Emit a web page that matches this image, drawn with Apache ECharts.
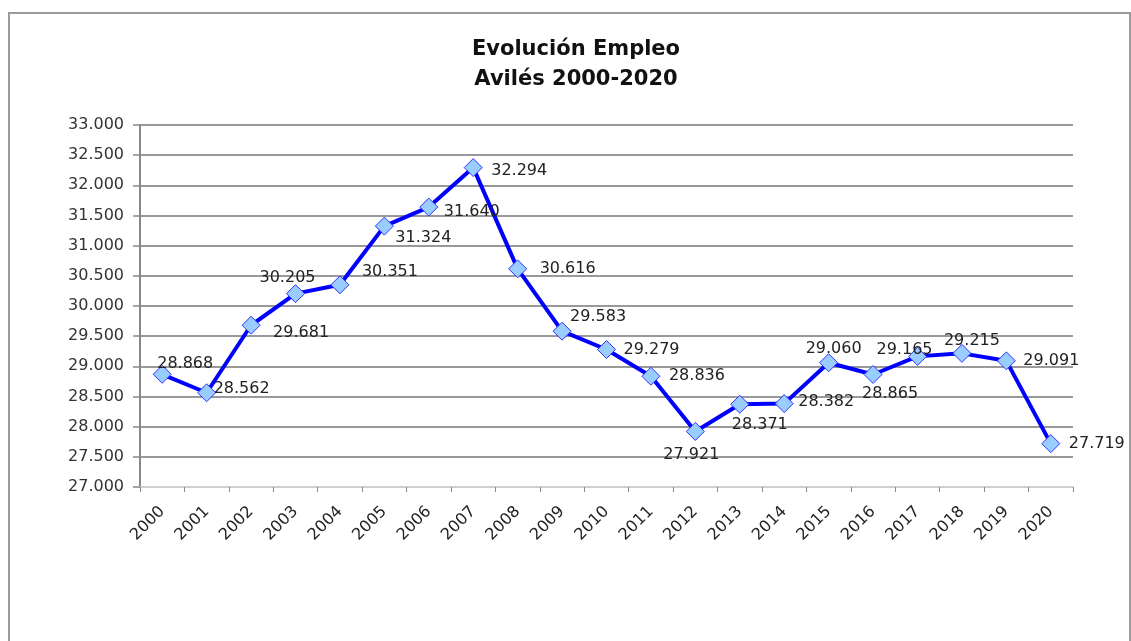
<!DOCTYPE html>
<html>
<head>
<meta charset="utf-8">
<title>Evolución Empleo Avilés 2000-2020</title>
<script src="https://cdn.jsdelivr.net/npm/echarts@6/dist/echarts.min.js"></script>
<style>
html, body { margin: 0; padding: 0; background: #fff; }
#main { width: 1131px; height: 641px; }
</style>
</head>
<body>
<div id="main"></div>
<script>
// datos
var years = ['2000','2001','2002','2003','2004','2005','2006','2007','2008','2009','2010',
	'2011','2012','2013','2014','2015','2016','2017','2018','2019','2020'];
var empleo = [28868, 28562, 29681, 30205, 30351, 31324, 31640, 32294, 30616, 29583, 29279,
	28836, 27921, 28371, 28382, 29060, 28865, 29165, 29215, 29091, 27719];
var yTicks = [27000, 27500, 28000, 28500, 29000, 29500, 30000, 30500, 31000, 31500, 32000, 32500, 33000];

// desplazamiento de cada etiqueta respecto al punto (solo estilo)
var labelOffsets = [[23,-10],[35,-4],[50,8],[-8,-16],[50,-13],[39,12],[43,5],[46,3],[50,0],[36,-14],[45,0],
	[46,0],[-4,23],[20,21],[42,-2],[5,-14],[17,19],[-13,-7],[10,-13],[45,0],[46,0]];

function fmt(v){
	return (v/1000).toFixed(3);
}

var myChart = echarts.init(document.getElementById('main'));

var seriesData = [];
for(var i = 0; i < empleo.length; i++){
	seriesData.push({
		value: empleo[i],
		label: { offset: labelOffsets[i] }
	});
}

var option = {
	backgroundColor: '#fff',
	animation: false,
	graphic: [{
		type: 'rect',
		shape: { x: 9, y: 13, width: 1121, height: 700 },
		style: { fill: 'none', stroke: '#9a9a9a', lineWidth: 2 },
		silent: true
	}],
	title: {
		text: 'Evolución Empleo\nAvilés 2000-2020',
		left: 571,
		top: 30,
		textAlign: 'center',
		textStyle: {
			fontFamily: 'DejaVu Sans',
			fontWeight: 'bold',
			fontSize: 21,
			lineHeight: 30,
			color: '#111'
		}
	},
	grid: {
		left: 140,
		right: 58,
		top: 125,
		bottom: 154,
		containLabel: false
	},
	xAxis: {
		type: 'category',
		data: years,
		boundaryGap: true,
		axisLine: { lineStyle: { color: '#cfcfcf', width: 2 } },
		axisTick: { show: true, length: 5, lineStyle: { color: '#888' } },
		axisLabel: {
			rotate: 45,
			interval: 0,
			margin: 22,
			fontFamily: 'DejaVu Sans',
			fontSize: 16,
			color: '#222'
		}
	},
	yAxis: {
		type: 'value',
		min: yTicks[0],
		max: yTicks[yTicks.length - 1],
		interval: 500,
		axisLine: { show: true, lineStyle: { color: '#888', width: 2 } },
		axisTick: { show: true, length: 7, lineStyle: { color: '#888', width: 1.5 } },
		axisLabel: {
			margin: 16,
			fontFamily: 'DejaVu Sans',
			fontSize: 16,
			color: '#333',
			formatter: function(v){ return fmt(v); }
		},
		splitLine: { show: true, lineStyle: { color: '#999', width: 2 } }
	},
	series: [{
		name: 'Empleo',
		type: 'line',
		data: seriesData,
		symbol: 'diamond',
		symbolSize: 18,
		lineStyle: { color: '#0000ff', width: 4 },
		itemStyle: { color: '#99ccff', borderColor: '#3333ff', borderWidth: 1 },
		label: {
			show: true,
			position: 'inside',
			fontFamily: 'DejaVu Sans',
			fontSize: 16,
			color: '#222',
			formatter: function(p){ return fmt(p.value); }
		},
		z: 3
	}]
};
myChart.setOption(option, true);
</script>
</body>
</html>
